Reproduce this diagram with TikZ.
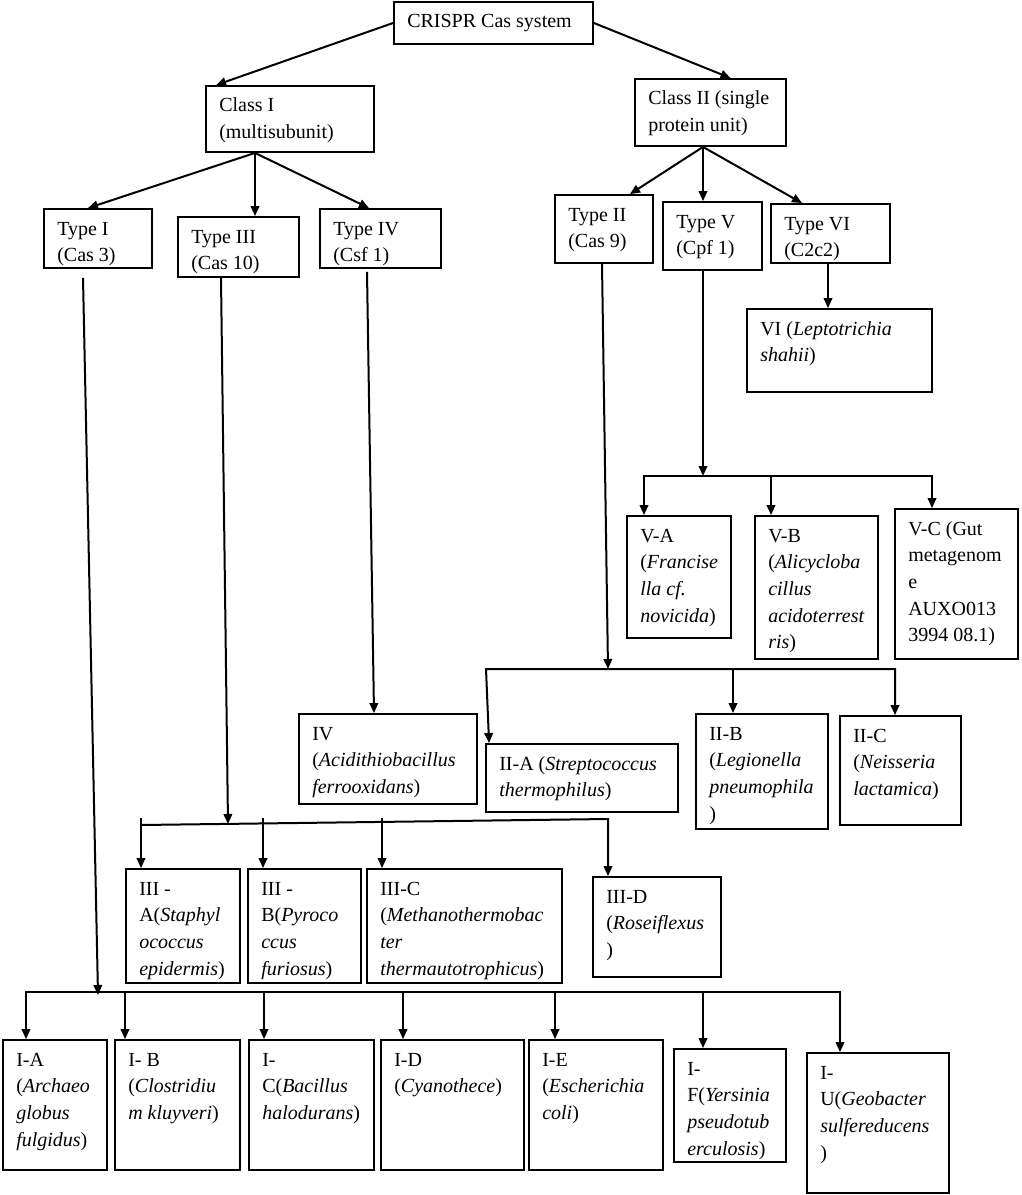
\documentclass[tikz,border=0pt]{standalone}
\usepackage{fontspec}
\setmainfont{Liberation Serif}
\usetikzlibrary{arrows.meta,calc,fit}
\newcommand\lnx[1]{\hbox{#1}}
\newcommand\bx[6]{%
  \coordinate (#1-nw) at (#2,#3);
  \coordinate (#1-se) at (#4,#5);
  \node[boxst, fit=(#1-nw)(#1-se)] (#1) {};
  \node[txtst] (#1-t) at ($(#1-nw)+(13,26)$) {\vtop{#6}};
}
\begin{document}
\begin{tikzpicture}[x=0.75pt,y=-0.75pt,
  boxst/.style={draw, line width=1.4pt, inner sep=0pt, rectangle},
  txtst/.style={anchor=base west, inner sep=0pt, font=\fontsize{15}{20}\selectfont},
  arr/.style={line width=1.5pt, line join=miter, -{Triangle[length=7.5pt,width=6.4pt]}},
  arrboth/.style={line width=1.5pt, line join=miter, {Triangle[length=7.5pt,width=6.4pt]}-{Triangle[length=7.5pt,width=6.4pt]}},
  linest/.style={line width=1.5pt}]
\fill[white] (0,0) rectangle (1021,1195);
\useasboundingbox (0,0) rectangle (1021,1195);

% boxes
\bx{crispr}{394}{2}{593}{44}{\lnx{CRISPR Cas system}}
\bx{classI}{206}{86}{374}{152}{\lnx{Class I}\lnx{(multisubunit)}}
\bx{classII}{635}{79}{786}{146}{\lnx{Class II (single}\lnx{protein unit)}}
\bx{typeI}{44}{209}{152}{268}{\lnx{Type I}\lnx{(Cas 3)}}
\bx{typeIII}{178}{217}{299}{277}{\lnx{Type III}\lnx{(Cas 10)}}
\bx{typeIV}{320}{209}{441}{268}{\lnx{Type IV}\lnx{(Csf 1)}}
\bx{typeII}{555}{195}{653}{263}{\lnx{Type II}\lnx{(Cas 9)}}
\bx{typeV}{663}{202}{762}{270}{\lnx{Type V}\lnx{(Cpf 1)}}
\bx{typeVI}{771}{204}{890}{263}{\lnx{Type VI}\lnx{(C2c2)}}
\bx{vi}{747}{309}{932}{392}{\lnx{VI (\textit{Leptotrichia}}\lnx{\textit{shahii})}}
\bx{va}{627}{516}{731}{638}{\lnx{V-A}\lnx{(\textit{Francise}}\lnx{\textit{lla cf.}}\lnx{\textit{novicida})}}
\bx{vb}{755}{516}{878}{659}{\lnx{V-B}\lnx{(\textit{Alicycloba}}\lnx{\textit{cillus}}\lnx{\textit{acidoterrest}}\lnx{\textit{ris})}}
\bx{vc}{895}{509}{1018}{659}{\lnx{V-C (Gut}\lnx{metagenom}\lnx{e}\lnx{AUXO013}\lnx{3994 08.1)}}
\bx{iia}{486}{744}{678}{812}{\lnx{II-A (\textit{Streptococcus}}\lnx{\textit{thermophilus})}}
\bx{iib}{696}{714}{828}{829}{\lnx{II-B}\lnx{(\textit{Legionella}}\lnx{\textit{pneumophila}}\lnx{)}}
\bx{iic}{840}{716}{961}{825}{\lnx{II-C}\lnx{(\textit{Neisseria}}\lnx{\textit{lactamica})}}
\bx{iv}{299}{714}{477}{804}{\lnx{IV}\lnx{(\textit{Acidithiobacillus}}\lnx{\textit{ferrooxidans})}}
\bx{iiia}{126}{869}{240}{983}{\lnx{III -}\lnx{A(\textit{Staphyl}}\lnx{\textit{ococcus}}\lnx{\textit{epidermis})}}
\bx{iiib}{248}{869}{361}{983}{\lnx{III -}\lnx{B(\textit{Pyroco}}\lnx{\textit{ccus}}\lnx{\textit{furiosus})}}
\bx{iiic}{367}{869}{562}{983}{\lnx{III-C}\lnx{(\textit{Methanothermobac}}\lnx{\textit{ter}}\lnx{\textit{thermautotrophicus})}}
\bx{iiid}{593}{877}{721}{977}{\lnx{III-D}\lnx{(\textit{Roseiflexus}}\lnx{)}}
\bx{ia}{3}{1040}{107}{1170}{\lnx{I-A}\lnx{(\textit{Archaeo}}\lnx{\textit{globus}}\lnx{\textit{fulgidus})}}
\bx{ib}{115}{1040}{240}{1170}{\lnx{I- B}\lnx{(\textit{Clostridiu}}\lnx{\textit{m kluyveri})}}
\bx{ic}{249}{1040}{374}{1170}{\lnx{I-}\lnx{C(\textit{Bacillus}}\lnx{\textit{halodurans})}}
\bx{id}{381}{1040}{524}{1170}{\lnx{I-D}\lnx{(\textit{Cyanothece})}}
\bx{ie}{529}{1040}{663}{1170}{\lnx{I-E}\lnx{(\textit{Escherichia}}\lnx{\textit{coli})}}
\bx{if}{674}{1049}{786}{1162}{\lnx{I-}\lnx{F(\textit{Yersinia}}\lnx{\textit{pseudotub}}\lnx{\textit{erculosis})}}
\bx{iu}{807}{1053}{949}{1193}{\lnx{I-}\lnx{U(\textit{Geobacter}}\lnx{\textit{sulfereducens}}\lnx{)}}

% top level
\draw[arr] (crispr.west) -- ($(classI.north west)+(11,0)$);
\draw[arr] (crispr.east) -- ($(classII.north)+(20,0)$);
\coordinate (cIs) at ($(classI.south)+(-35,0)$);
\draw[arr] (cIs) -- ($(typeI.north)+(-10,0)$);
\draw[arr] (cIs) -- ($(typeIII.north)+(16.5,0)$);
\draw[arr] (cIs) -- ($(typeIV.north)+(-11.5,0)$);
\coordinate (cIIs) at ($(classII.south)+(-7.5,0)$);
\draw[arr] (cIIs) -- ($(typeII.north)+(26,0)$);
\draw[arr] (cIIs) -- ($(typeV.north)+(-9.5,0)$);
\draw[arr] (cIIs) -- ($(typeVI.north)+(-28.5,0)$);
\draw[arr] ($(typeVI.south)+(-2.5,0)$) -- ($(vi.north)+(-11.5,0)$);

% Type V branch
\coordinate (bV) at (703,476);
\coordinate (bVa) at (644,476);
\coordinate (bVb) at (771,476);
\coordinate (bVc) at (932,476);
\draw[arr] ($(typeV.south)+(-9.5,0)$) -- (bV);
\draw[arrboth] (bVa |- va.north) -- (bVa) -- (bVc) -- (bVc |- vc.north);
\draw[arr] (bVb) -- (bVb |- vb.north);

% Type II branch
\coordinate (bII) at (608,669);
\coordinate (bIIa) at (486,669);
\coordinate (bIIb) at (733,669);
\coordinate (bIIc) at (895,669);
\draw[arr] ($(typeII.south)+(-2,0)$) -- (bII);
\draw[arrboth] ($(iia.north west)+(4,0)$) -- (bIIa) -- (bIIc) -- (bIIc |- iic.north);
\draw[arr] (bIIb) -- (bIIb |- iib.north);

% Type IV branch
\draw[arr] ($(typeIV.south)+(-13.5,3)$) -- ($(iv.north)+(-14,0)$);

% Type III branch
\coordinate (bIII) at (228,824);
\coordinate (bIIIa) at (141,825);
\coordinate (bIIId) at (608,819);
\coordinate (sA) at (141,818);
\coordinate (sB) at (263,818);
\coordinate (sC) at (382,818);
\draw[arr] ($(typeIII.south)+(-17.5,0)$) -- (bIII);
\draw[arr] (bIIIa) -- (bIIId) -- (bIIId |- iiid.north);
\draw[arr] (sA) -- (sA |- iiia.north);
\draw[arr] (sB) -- (sB |- iiib.north);
\draw[arr] (sC) -- (sC |- iiic.north);

% Type I branch
\coordinate (bI) at (98,995);
\coordinate (bIa) at (26,992);
\coordinate (bIb) at (125,992);
\coordinate (bIc) at (264,992);
\coordinate (bId) at (403,992);
\coordinate (bIe) at (555,992);
\coordinate (bIf) at (703,992);
\coordinate (bIu) at (840,992);
\draw[arr] ($(typeI.south)+(-15,9)$) -- (bI);
\draw[arrboth] (bIa |- ia.north) -- (bIa) -- (bIu) -- (bIu |- iu.north);
\draw[arr] (bIb) -- (bIb |- ib.north);
\draw[arr] (bIc) -- (bIc |- ic.north);
\draw[arr] (bId) -- (bId |- id.north);
\draw[arr] (bIe) -- (bIe |- ie.north);
\draw[arr] (bIf) -- (bIf |- if.north);
\end{tikzpicture}
\end{document}
